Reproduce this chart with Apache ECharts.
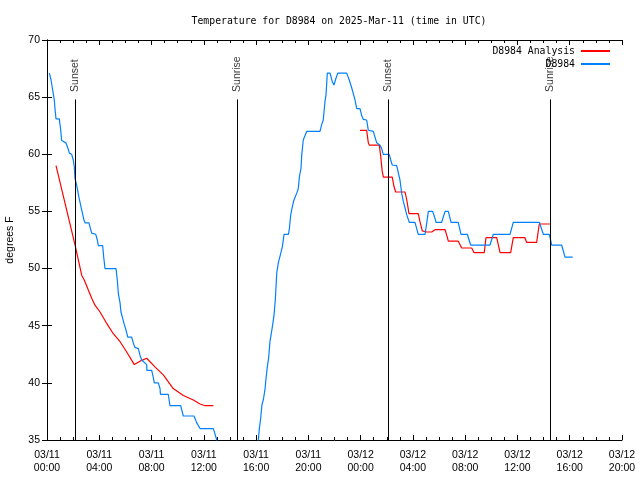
<!DOCTYPE html>
<html><head><meta charset="utf-8">
<script src="https://cdn.jsdelivr.net/npm/echarts@6/dist/echarts.min.js"></script>
<style>html,body{margin:0;padding:0;background:#fff}#c{width:640px;height:480px}</style>
</head><body><div id="c"></div>
<script>
// hours since 2025-03-11 00:00 UTC
const obsHours = [0.18,0.31,0.41,0.48,0.56,0.61,0.69,0.94,1.05,1.12,1.45,1.58,1.71,1.89,2.01,2.09,2.14,2.27,2.45,2.66,2.83,2.91,3.21,3.42,3.73,3.85,3.93,4.26,4.34,4.44,5.28,5.38,5.46,5.59,5.66,5.79,5.89,6.05,6.18,6.48,6.60,6.73,6.99,7.12,7.25,7.37,7.63,7.64,8.01,8.13,8.21,8.52,8.65,8.68,9.28,9.41,10.23,10.43,11.25,11.46,11.71,12.73,12.99,13.1,
  null,
  16.1,16.17,16.25,16.35,16.45,16.55,16.68,16.76,16.86,16.97,17.06,17.16,17.27,17.37,17.47,17.58,17.70,17.88,18.01,18.14,18.47,18.54,18.65,18.77,18.90,19.11,19.23,19.31,19.44,19.49,19.61,19.87,20.89,21.02,21.14,21.27,21.35,21.45,21.66,21.83,21.96,22.11,22.25,22.93,23.13,23.32,23.44,23.57,23.70,23.95,24.08,24.20,24.46,24.59,24.97,25.10,25.23,25.48,25.61,25.73,26.19,26.30,26.42,26.76,26.84,27.01,27.14,27.27,27.40,27.53,27.72,28.16,28.29,28.41,28.93,29.06,29.18,29.51,29.69,29.77,30.20,30.46,30.71,30.92,31.47,31.68,32.16,32.42,33.90,34.15,35.43,35.68,37.67,37.98,38.44,38.62,39.38,39.64,40.23];
const obsTemps = [67.1,66.5,65.8,65.3,64.75,64.0,63.1,63.1,62.1,61.2,61.0,60.6,60.1,60.0,59.5,58.9,57.9,57.3,56.2,55.1,54.25,54.0,54.0,53.1,53.0,52.5,52.0,52.0,51.0,50.0,50.0,49.0,47.8,47.0,46.2,45.65,45.2,44.6,44.0,44.0,43.5,43.1,43.0,42.4,42.0,41.9,41.6,41.1,41.1,40.5,40.0,40.0,39.5,39.0,39.0,38.0,38.0,37.1,37.1,36.5,36.0,36.0,35.0,34.5,
  null,
  34.4,35.0,36.0,36.9,38.1,38.5,39.4,40.4,41.4,42.3,43.6,44.3,45.1,45.9,47.25,49.6,50.5,51.3,51.9,53.0,53.0,53.4,54.7,55.4,56.0,56.6,57.0,58.0,58.8,59.9,61.25,62.0,62.0,62.6,63.0,64.6,65.2,67.1,67.1,66.35,66.06,66.65,67.1,67.1,66.5,65.8,65.3,64.75,64.0,64.0,63.4,63.06,63.0,62.1,62.0,61.5,61.0,60.8,60.5,60.0,60.0,59.5,59.06,59.0,58.6,57.75,56.6,55.85,55.3,54.7,54.05,54.05,53.5,53.0,53.0,54.0,55.0,55.0,54.4,54.05,54.05,55.0,55.0,54.05,54.05,53.0,53.0,52.06,52.06,53.0,53.0,54.05,54.05,53.0,53.0,52.06,52.06,51.0,51.0];

const anaHours = [0.69,2.14,2.66,2.85,3.42,3.67,4.06,4.57,5.07,5.59,6.10,6.68,7.12,7.63,8.26,8.90,9.66,10.43,11.20,11.71,12.09,12.73,
  null,
  23.95,24.46,24.59,24.66,25.43,25.54,25.64,25.74,26.42,26.55,26.68,27.40,27.53,27.70,28.41,28.54,28.72,29.06,29.44,29.69,30.46,30.59,30.71,31.47,31.73,32.50,32.67,33.46,33.59,34.41,34.67,35.48,35.68,36.57,36.70,37.47,37.67,38.49];
const anaTemps = [59.0,52.1,49.4,49.0,47.4,46.8,46.2,45.2,44.3,43.6,42.7,41.6,41.9,42.15,41.4,40.7,39.5,38.9,38.5,38.15,38.0,38.0,
  null,
  62.1,62.1,61.0,60.8,60.8,59.8,58.6,58.0,58.0,57.2,56.7,56.7,56.0,54.8,54.8,54.1,53.3,53.2,53.2,53.4,53.4,52.9,52.4,52.4,51.8,51.8,51.4,51.4,52.7,52.7,51.4,51.4,52.7,52.7,52.3,52.3,53.9,53.9];

const sunEventNames = ['Sunset','Sunrise','Sunset','Sunrise'];
const sunEventHours = [2.14,14.54,26.09,38.49];
const sunLineTop = 64.8;

const yTicks = [35,40,45,50,55,60,65,70];

const zip = (a,b) => a.map((v,i) => v === null ? '-' : [v,b[i]]);

function fmtX(v){
  const day = 11 + Math.floor(v/24);
  const hh = v % 24;
  return '03/' + String(day).padStart(2,'0') + '\n' + String(hh).padStart(2,'0') + ':00';
}

const sans = 'Liberation Sans';
const mono = 'DejaVu Sans Mono';

const axisCommonX = {
  type:'value', min:0, max:44, interval:4,
  axisLine:{show:true,lineStyle:{color:'#000',width:1}},
  axisTick:{show:true,inside:true,length:5,lineStyle:{color:'#000'}},
  minorTick:{show:true,splitNumber:4,length:3,lineStyle:{color:'#000'}},
  splitLine:{show:false}, minorSplitLine:{show:false}
};
const axisCommonY = {
  type:'value', min:yTicks[0], max:yTicks[yTicks.length-1], interval:5,
  axisLine:{show:true,lineStyle:{color:'#000',width:1}},
  axisTick:{show:true,inside:true,length:5,lineStyle:{color:'#000'}},
  splitLine:{show:false}
};

const chart = echarts.init(document.getElementById('c'), null, {renderer:'canvas'});
chart.setOption({
  animation:false,
  backgroundColor:'#fff',
  title:{text:'Temperature for D8984 on 2025-Mar-11 (time in UTC)', left:334, top:11, textAlign:'center',
    textStyle:{fontFamily:mono,fontSize:9.8,fontWeight:'normal',color:'#000'}},
  grid:{left:47,right:18,top:40,bottom:40,containLabel:false,outerBoundsMode:'none'},
  legend:[
    {data:['D8984 Analysis'], right:30, top:46, align:'right', itemWidth:29, itemHeight:2, icon:'rect', itemGap:0,
      textStyle:{fontFamily:mono,fontSize:9.8,color:'#000',padding:[0,1,0,0]}, padding:0},
    {data:['D8984'], right:30, top:59, align:'right', itemWidth:29, itemHeight:2, icon:'rect', itemGap:0,
      textStyle:{fontFamily:mono,fontSize:9.8,color:'#000',padding:[0,1,0,0]}, padding:0}
  ],
  xAxis:[
    Object.assign({}, axisCommonX, {position:'bottom',
      axisLabel:{show:true,formatter:fmtX,fontFamily:sans,fontSize:10.5,color:'#000',margin:9,lineHeight:13}}),
    Object.assign({}, axisCommonX, {position:'top', axisLabel:{show:false}})
  ],
  yAxis:[
    Object.assign({}, axisCommonY, {position:'left', name:'degrees F', nameLocation:'middle', nameGap:31,
      nameTextStyle:{fontFamily:sans,fontSize:10.5,color:'#000'},
      axisLabel:{show:true,fontFamily:sans,fontSize:10.5,color:'#000',margin:7}}),
    Object.assign({}, axisCommonY, {position:'right', axisLabel:{show:false}})
  ],
  series:[
    {name:'D8984 Analysis', type:'line', xAxisIndex:0, yAxisIndex:0, data:zip(anaHours,anaTemps),
      showSymbol:false, symbol:'none', connectNulls:false, clip:true, color:'#ff0000',
      lineStyle:{color:'#ff0000',width:1.2}, z:3},
    {name:'D8984', type:'line', xAxisIndex:0, yAxisIndex:0, data:zip(obsHours,obsTemps),
      showSymbol:false, symbol:'none', connectNulls:false, clip:true, color:'#0080ff',
      lineStyle:{color:'#0080ff',width:1.2}, z:4},
    {name:'events', type:'scatter', xAxisIndex:0, yAxisIndex:0, symbolSize:1, silent:true,
      itemStyle:{color:'rgba(0,0,0,0)'},
      data:sunEventHours.map((h,i)=>({value:[h,sunLineTop], name:sunEventNames[i]})),
      label:{show:true, formatter:p=>p.name, position:'top', distance:7, rotate:90, align:'left', verticalAlign:'middle',
        fontFamily:sans, fontSize:10.5, color:'#000'},
      markLine:{silent:true, symbol:['none','none'], animation:false,
        lineStyle:{color:'#000',width:1,type:'solid'}, label:{show:false},
        data:sunEventHours.map(h=>[{coord:[h,35]},{coord:[h,sunLineTop]}])},
      z:2}
  ]
});
</script></body></html>
